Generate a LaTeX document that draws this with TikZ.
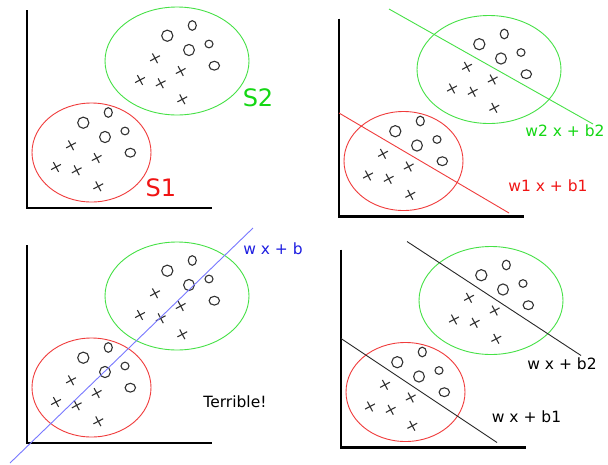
\documentclass[tikz,border=0pt]{standalone}
\usepackage{fontspec}
\setmainfont{DejaVu Sans}

\definecolor{grn}{RGB}{70,225,70}
\definecolor{grntxt}{RGB}{20,215,20}
\definecolor{rd}{RGB}{240,60,60}
\definecolor{rdtxt}{RGB}{240,20,20}
\definecolor{bl}{RGB}{120,120,255}
\definecolor{bltxt}{RGB}{30,30,225}
\definecolor{ink}{RGB}{50,50,50}
\definecolor{sepink}{RGB}{40,40,40}

\tikzset{
  axisline/.style={line width=2.6pt, black},
  ring/.style={line width=0.9pt},
  symb/.style={draw=ink, line width=1.1pt},
  sepline/.style={line width=0.9pt},
  lbl/.style={inner sep=0pt, font=\fontsize{15.5}{18}\selectfont},
  biglbl/.style={inner sep=0pt, font=\fontsize{24}{28}\selectfont},
  crossmark/.pic={\draw[symb] (-5.5,0) -- (5.5,0) (0,-5.5) -- (0,5.5);}
}

% one cluster of samples: five circles and five crosses
\newcommand\samplecluster{%
  \draw[symb] (167.3,35.7) ellipse [x radius=5.6, y radius=5.6];
  \draw[symb] (192.3,25.5) ellipse [x radius=4, y radius=4.8];
  \draw[symb] (189,50) ellipse [x radius=5.4, y radius=5.6];
  \draw[symb] (209,44) ellipse [x radius=4, y radius=3.8];
  \draw[symb] (214.3,65.7) ellipse [x radius=5.2, y radius=4.4];
  \foreach \p in {(155,58.3),(140,80),(160.7,83.3),(180.7,71),(182.3,99.3)}
    \pic[rotate=28] at \p {crossmark};
}

% axes, the two class regions and their samples
\newcommand\classpanel{%
  \draw[axisline] (27,10) -- (27,208) -- (212,208);
  \draw[ring, grn] (177,61) ellipse [x radius=72, y radius=54];
  \draw[ring, rd] (91.5,152.5) ellipse [x radius=59.5, y radius=49.5];
  \samplecluster
  \begin{scope}[shift={(-84,87)}]\samplecluster\end{scope}
}

\begin{document}
\begin{tikzpicture}[x=1pt, y=-1pt]
  \useasboundingbox (0,0) rectangle (608,464);
  \fill[white] (0,0) rectangle (608,464);

  % top left: the two sets
  \classpanel
  \node[biglbl, text=grntxt] (s2) at (258,97.5) {S2};
  \node[biglbl, text=rdtxt] (s1) at (161,187.5) {S1};

  % top right: one separating line per set
  \begin{scope}[shift={(312,8.5)}]
    \classpanel
    \draw[sepline, grn] (77,0.5) -- (281,115.5);
    \draw[sepline, rd] (27,104.5) -- (197,204.5);
  \end{scope}
  \node[lbl, text=grntxt] (h2) at (565,131) {w2 x + b2};
  \node[lbl, text=rdtxt] (h1) at (548,185.5) {w1 x + b1};

  % bottom left: a single line through both sets
  \begin{scope}[shift={(0,235)}]
    \classpanel
  \end{scope}
  \draw[sepline, bl] (10,463) -- (253,228);
  \node[lbl, text=bltxt] (hb) at (273,249) {w x + b};
  \node[lbl] (bad) at (235,402) {Terrible!};

  % bottom right: shared weights, two offsets
  \begin{scope}[shift={(314,239.5)}]
    \classpanel
    \draw[sepline, sepink] (93,2) -- (267,116);
    \draw[sepline, sepink] (27,99) -- (183,203);
  \end{scope}
  \node[lbl] (hw2) at (562,363.5) {w x + b2};
  \node[lbl] (hw1) at (526.5,417) {w x + b1};
\end{tikzpicture}
\end{document}
